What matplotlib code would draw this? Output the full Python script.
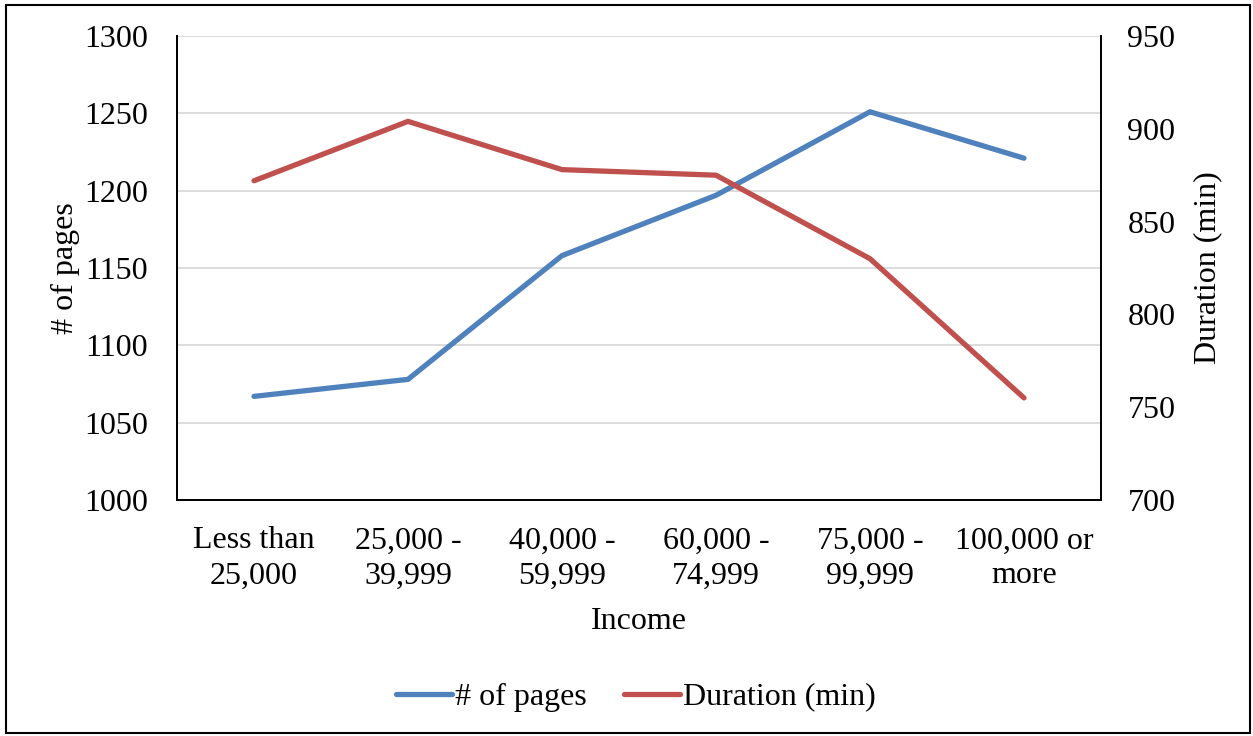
import matplotlib
matplotlib.use("Agg")
import matplotlib.pyplot as plt
from matplotlib.lines import Line2D
from matplotlib.patches import Rectangle

plt.rcParams['font.family'] = ['Liberation Serif', 'DejaVu Serif']

categories = ["Less than\n25,000", "25,000 -\n39,999", "40,000 -\n59,999",
              "60,000 -\n74,999", "75,000 -\n99,999", "100,000 or\nmore"]
pages = [1067, 1078, 1158, 1197, 1251, 1221]
duration = [872, 904, 878, 875, 830, 755]

left_ticks = [1000, 1050, 1100, 1150, 1200, 1250, 1300]
right_ticks = [700, 750, 800, 850, 900, 950]

blue = "#4F81BD"
red = "#C0504D"
W, H = 1253, 736
FS = 23

fig = plt.figure(figsize=(W / 100, H / 100), dpi=100)
ax = fig.add_axes([177 / W, 1 - 500 / H, (1101 - 177) / W, (500 - 36) / H])
ax2 = ax.twinx()

x = list(range(len(categories)))
ax.plot(x, pages, color=blue, lw=3.8, solid_capstyle="round", solid_joinstyle="miter", zorder=3)
ax2.plot(x, duration, color=red, lw=3.8, solid_capstyle="round", solid_joinstyle="miter", zorder=3)

ax.set_xlim(-0.5, len(categories) - 0.5)
ax.set_ylim(1000, 1300)
ax2.set_ylim(700, 950)
ax.set_yticks(left_ticks)
ax2.set_yticks(right_ticks)
ax.set_xticks(x)
ax.set_xticklabels(categories, fontsize=FS, linespacing=1.27)

ax.yaxis.grid(True, color="#D9D9D9", lw=1.3)
ax.set_axisbelow(True)

for a in (ax, ax2):
    a.tick_params(axis="both", length=0, labelsize=FS)
    a.spines["top"].set_visible(False)
    for s in ("left", "right", "bottom"):
        a.spines[s].set_linewidth(1.3)
        a.spines[s].set_color("black")
ax.tick_params(axis="y", pad=21)
ax2.tick_params(axis="y", pad=19)
ax.tick_params(axis="x", pad=19)

ax.set_ylabel("# of pages", fontsize=FS, labelpad=3)
ax2.set_ylabel("Duration (min)", fontsize=FS, labelpad=13)
ax.set_xlabel("Income", fontsize=FS, labelpad=12)

handles = [Line2D([], [], color=blue, lw=3.8, solid_capstyle="round"),
           Line2D([], [], color=red, lw=3.8, solid_capstyle="round")]
fig.legend(handles, ["# of pages", "Duration (min)"], loc="center",
           bbox_to_anchor=(636 / W, 1 - 697 / H), ncol=2, frameon=False,
           fontsize=FS, handlelength=1.75, handletextpad=0.1, columnspacing=1.15)

fig.patches.append(Rectangle((6 / W, 1 - 733 / H), (1250 - 6) / W, (733 - 5) / H,
                             transform=fig.transFigure, fill=False,
                             edgecolor="black", lw=1.5))

fig.savefig("out.png", dpi=100)
